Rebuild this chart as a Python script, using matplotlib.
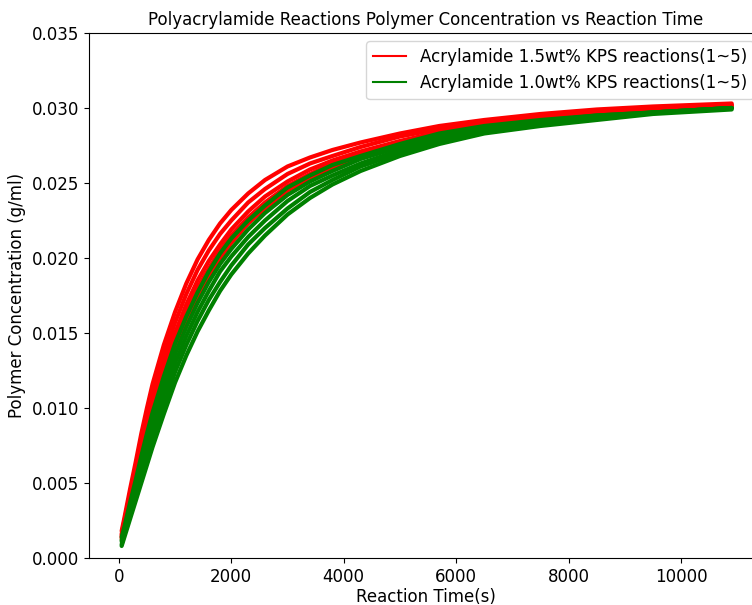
import matplotlib
matplotlib.use("Agg")
import matplotlib.pyplot as plt
from matplotlib.lines import Line2D
from matplotlib.ticker import FormatStrFormatter

# reaction time (s)
t = [50, 100, 200, 300, 400, 500, 600, 800, 1000, 1200, 1400, 1600, 1800, 2000,
     2300, 2600, 3000, 3400, 3800, 4300, 5000, 5700, 6500, 7500, 8500, 9500, 10900]

# Acrylamide 1.5wt% KPS, reactions 1-5 (g/ml)
red_1 = [0.0018, 0.0027, 0.0046, 0.0064, 0.0083, 0.0100, 0.0116, 0.0142, 0.0164, 0.0183,
         0.0199, 0.0212, 0.0223, 0.0232, 0.0243, 0.0252, 0.0261, 0.0267, 0.0272, 0.0277,
         0.0283, 0.0288, 0.0292, 0.0296, 0.0299, 0.0301, 0.0303]
red_2 = [0.0016, 0.0025, 0.0043, 0.0060, 0.0078, 0.0094, 0.0110, 0.0135, 0.0157, 0.0176,
         0.0192, 0.0205, 0.0216, 0.0225, 0.0237, 0.0246, 0.0256, 0.0263, 0.0268, 0.0274,
         0.0281, 0.0286, 0.0291, 0.0295, 0.0298, 0.0300, 0.0302]
red_3 = [0.0015, 0.0023, 0.0040, 0.0056, 0.0073, 0.0089, 0.0103, 0.0128, 0.0150, 0.0169,
         0.0185, 0.0198, 0.0209, 0.0219, 0.0231, 0.0241, 0.0251, 0.0259, 0.0265, 0.0271,
         0.0278, 0.0284, 0.0289, 0.0294, 0.0297, 0.0299, 0.0302]
red_4 = [0.0014, 0.0022, 0.0038, 0.0054, 0.0070, 0.0085, 0.0099, 0.0124, 0.0145, 0.0164,
         0.0180, 0.0193, 0.0205, 0.0215, 0.0227, 0.0237, 0.0248, 0.0256, 0.0263, 0.0269,
         0.0277, 0.0283, 0.0288, 0.0293, 0.0296, 0.0299, 0.0301]
red_5 = [0.0013, 0.0020, 0.0036, 0.0051, 0.0066, 0.0081, 0.0095, 0.0119, 0.0140, 0.0159,
         0.0175, 0.0188, 0.0200, 0.0210, 0.0223, 0.0233, 0.0245, 0.0253, 0.0260, 0.0267,
         0.0275, 0.0282, 0.0287, 0.0292, 0.0295, 0.0298, 0.0301]

# Acrylamide 1.0wt% KPS, reactions 1-5 (g/ml)
green_1 = [0.0014, 0.0021, 0.0037, 0.0052, 0.0068, 0.0083, 0.0097, 0.0121, 0.0143, 0.0161,
           0.0177, 0.0191, 0.0203, 0.0213, 0.0225, 0.0235, 0.0247, 0.0255, 0.0262, 0.0268,
           0.0276, 0.0283, 0.0288, 0.0292, 0.0295, 0.0297, 0.0300]
green_2 = [0.0012, 0.0019, 0.0034, 0.0048, 0.0063, 0.0077, 0.0091, 0.0114, 0.0136, 0.0154,
           0.0170, 0.0184, 0.0196, 0.0206, 0.0219, 0.0230, 0.0242, 0.0251, 0.0258, 0.0266,
           0.0274, 0.0281, 0.0287, 0.0291, 0.0295, 0.0297, 0.0300]
green_3 = [0.0011, 0.0018, 0.0032, 0.0045, 0.0059, 0.0073, 0.0086, 0.0109, 0.0130, 0.0148,
           0.0164, 0.0178, 0.0191, 0.0201, 0.0214, 0.0225, 0.0238, 0.0248, 0.0255, 0.0263,
           0.0272, 0.0279, 0.0286, 0.0290, 0.0294, 0.0297, 0.0300]
green_4 = [0.0009, 0.0016, 0.0029, 0.0042, 0.0055, 0.0067, 0.0080, 0.0102, 0.0124, 0.0142,
           0.0158, 0.0172, 0.0184, 0.0195, 0.0209, 0.0220, 0.0233, 0.0244, 0.0252, 0.0261,
           0.0270, 0.0278, 0.0284, 0.0289, 0.0293, 0.0297, 0.0300]
green_5 = [0.0008, 0.0014, 0.0026, 0.0038, 0.0050, 0.0062, 0.0074, 0.0096, 0.0117, 0.0135,
           0.0151, 0.0165, 0.0178, 0.0189, 0.0203, 0.0215, 0.0229, 0.0240, 0.0249, 0.0258,
           0.0268, 0.0276, 0.0283, 0.0288, 0.0292, 0.0296, 0.0299]

red_runs = [red_1, red_2, red_3, red_4, red_5]
green_runs = [green_1, green_2, green_3, green_4, green_5]

plt.rcParams['font.family'] = 'DejaVu Sans'
plt.rcParams['font.size'] = 12

fig = plt.figure(figsize=(7.52, 6.05), dpi=100)
ax = fig.add_axes([0.1184, 0.0777, 0.895, 0.8678])

for run in red_runs:
    ax.plot(t, run, color='red', lw=3.0, solid_capstyle='round', solid_joinstyle='round')
for run in green_runs:
    ax.plot(t, run, color='green', lw=3.0, solid_capstyle='round', solid_joinstyle='round')

handles = [Line2D([], [], color='red', lw=1.5),
           Line2D([], [], color='green', lw=1.5)]
ax.legend(handles, ['Acrylamide 1.5wt% KPS reactions(1~5)',
                    'Acrylamide 1.0wt% KPS reactions(1~5)'],
          loc='upper right', fontsize=12)

ax.set_title('Polyacrylamide Reactions Polymer Concentration vs Reaction Time', fontsize=12)
ax.set_xlabel('Reaction Time(s)', labelpad=2)
ax.set_ylabel('Polymer Concentration (g/ml)')
ax.set_xlim(-530, 11440)
ax.set_ylim(0, 0.035)
ax.set_yticks([0.000, 0.005, 0.010, 0.015, 0.020, 0.025, 0.030, 0.035])
ax.yaxis.set_major_formatter(FormatStrFormatter('%.3f'))

fig.savefig('out.png', dpi=100)
